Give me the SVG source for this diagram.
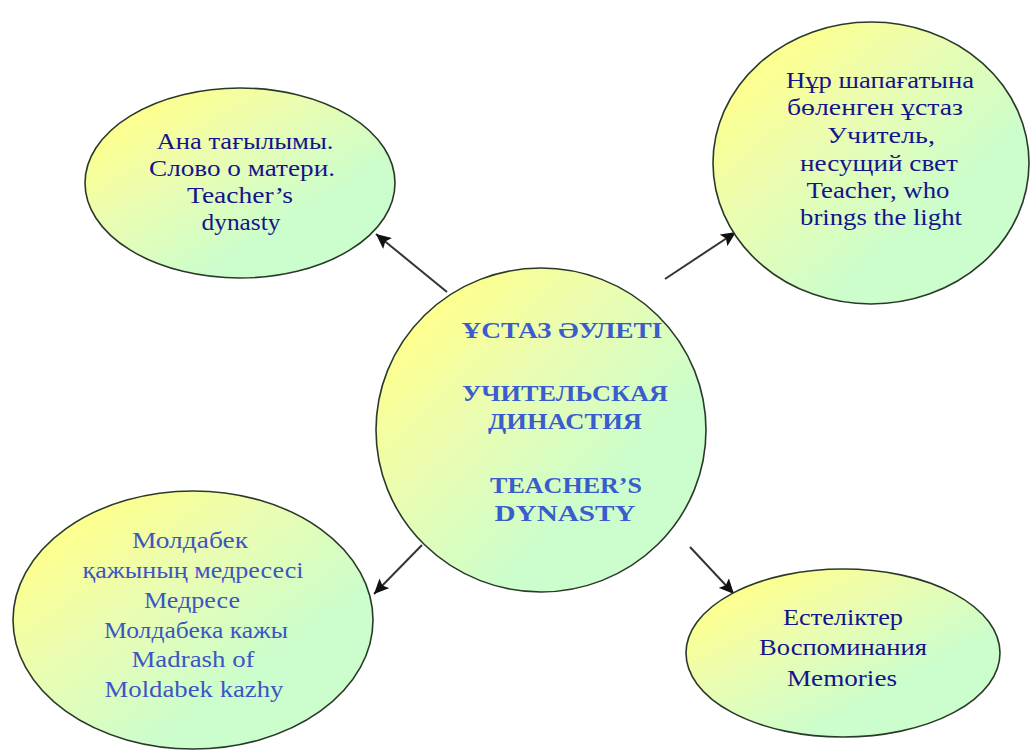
<svg xmlns="http://www.w3.org/2000/svg" width="1036" height="754" viewBox="0 0 1036 754">
<defs>
<linearGradient id="g" x1="0.1" y1="0.15" x2="0.8" y2="0.85">
<stop offset="0" stop-color="#ffff8a"/>
<stop offset="0.35" stop-color="#ecfdb0"/>
<stop offset="0.8" stop-color="#ccfdcc"/>
</linearGradient>
<marker id="ah" markerUnits="userSpaceOnUse" markerWidth="16" markerHeight="14" refX="15" refY="7" orient="auto">
<path d="M0,0 L15,7 L0,14 L3,7 z" fill="#111"/>
</marker>
<style>
.node{fill:url(#g);stroke:#2a3a2a;stroke-width:1.6}
.t{font-family:"Liberation Serif","DejaVu Serif",serif;font-size:23px;text-anchor:middle}
.navy{fill:#14148c}
.blue{fill:#3d55c4}
.bold{font-weight:bold;fill:#3a5ccc}
.conn{stroke:#333;stroke-width:2;fill:none;marker-end:url(#ah)}
</style>
</defs>
<rect width="1036" height="754" fill="#ffffff"/>
<g id="connectors">
<line class="conn" x1="447" y1="292" x2="376" y2="234"/>
<line class="conn" x1="665" y1="279" x2="736" y2="232"/>
<line class="conn" x1="422" y1="545" x2="374" y2="594"/>
<line class="conn" x1="690" y1="547" x2="734" y2="594"/>
</g>
<g id="node-top-left">
<ellipse class="node" cx="240" cy="183" rx="155" ry="95"/>
<text class="t navy" x="245" y="149" textLength="177" lengthAdjust="spacingAndGlyphs">Ана тағылымы.</text>
<text class="t navy" x="242" y="176" textLength="186" lengthAdjust="spacingAndGlyphs">Слово о матери.</text>
<text class="t navy" x="240" y="203" textLength="106" lengthAdjust="spacingAndGlyphs">Teacher’s</text>
<text class="t navy" x="241" y="230" textLength="79" lengthAdjust="spacingAndGlyphs">dynasty</text>
</g>
<g id="node-top-right">
<ellipse class="node" cx="871" cy="163" rx="158" ry="141"/>
<text class="t navy" x="880" y="88" textLength="188" lengthAdjust="spacingAndGlyphs">Нұр шапағатына</text>
<text class="t navy" x="875" y="115" textLength="176" lengthAdjust="spacingAndGlyphs">бөленген ұстаз</text>
<text class="t navy" x="881" y="143" textLength="108" lengthAdjust="spacingAndGlyphs">Учитель,</text>
<text class="t navy" x="879" y="171" textLength="158" lengthAdjust="spacingAndGlyphs">несущий свет</text>
<text class="t navy" x="878" y="198" textLength="143" lengthAdjust="spacingAndGlyphs">Teacher, who</text>
<text class="t navy" x="881" y="225" textLength="162" lengthAdjust="spacingAndGlyphs">brings the light</text>
</g>
<g id="node-center">
<ellipse class="node" cx="541" cy="430" rx="165" ry="162"/>
<text class="t bold" x="562" y="338" textLength="201" lengthAdjust="spacingAndGlyphs">ҰСТАЗ ӘУЛЕТІ</text>
<text class="t bold" x="565" y="401" textLength="206" lengthAdjust="spacingAndGlyphs">УЧИТЕЛЬСКАЯ</text>
<text class="t bold" x="565" y="429" textLength="154" lengthAdjust="spacingAndGlyphs">ДИНАСТИЯ</text>
<text class="t bold" x="566" y="493" textLength="152" lengthAdjust="spacingAndGlyphs">TEACHER’S</text>
<text class="t bold" x="565" y="521" textLength="141" lengthAdjust="spacingAndGlyphs">DYNASTY</text>
</g>
<g id="node-bottom-left">
<ellipse class="node" cx="193" cy="620" rx="180" ry="129"/>
<text class="t blue" x="190" y="548" textLength="116" lengthAdjust="spacingAndGlyphs">Молдабек</text>
<text class="t blue" x="193" y="578" textLength="221" lengthAdjust="spacingAndGlyphs">қажының медресесі</text>
<text class="t blue" x="192" y="608" textLength="96" lengthAdjust="spacingAndGlyphs">Медресе</text>
<text class="t blue" x="196" y="638" textLength="184" lengthAdjust="spacingAndGlyphs">Молдабека кажы</text>
<text class="t blue" x="193" y="667" textLength="123" lengthAdjust="spacingAndGlyphs">Madrash of</text>
<text class="t blue" x="194" y="697" textLength="179" lengthAdjust="spacingAndGlyphs">Moldabek kazhy</text>
</g>
<g id="node-bottom-right">
<ellipse class="node" cx="843" cy="653" rx="157" ry="84"/>
<text class="t navy" x="843" y="625" textLength="120" lengthAdjust="spacingAndGlyphs">Естеліктер</text>
<text class="t navy" x="843" y="655" textLength="168" lengthAdjust="spacingAndGlyphs">Воспоминания</text>
<text class="t navy" x="842" y="686" textLength="110" lengthAdjust="spacingAndGlyphs">Memories</text>
</g>
</svg>
